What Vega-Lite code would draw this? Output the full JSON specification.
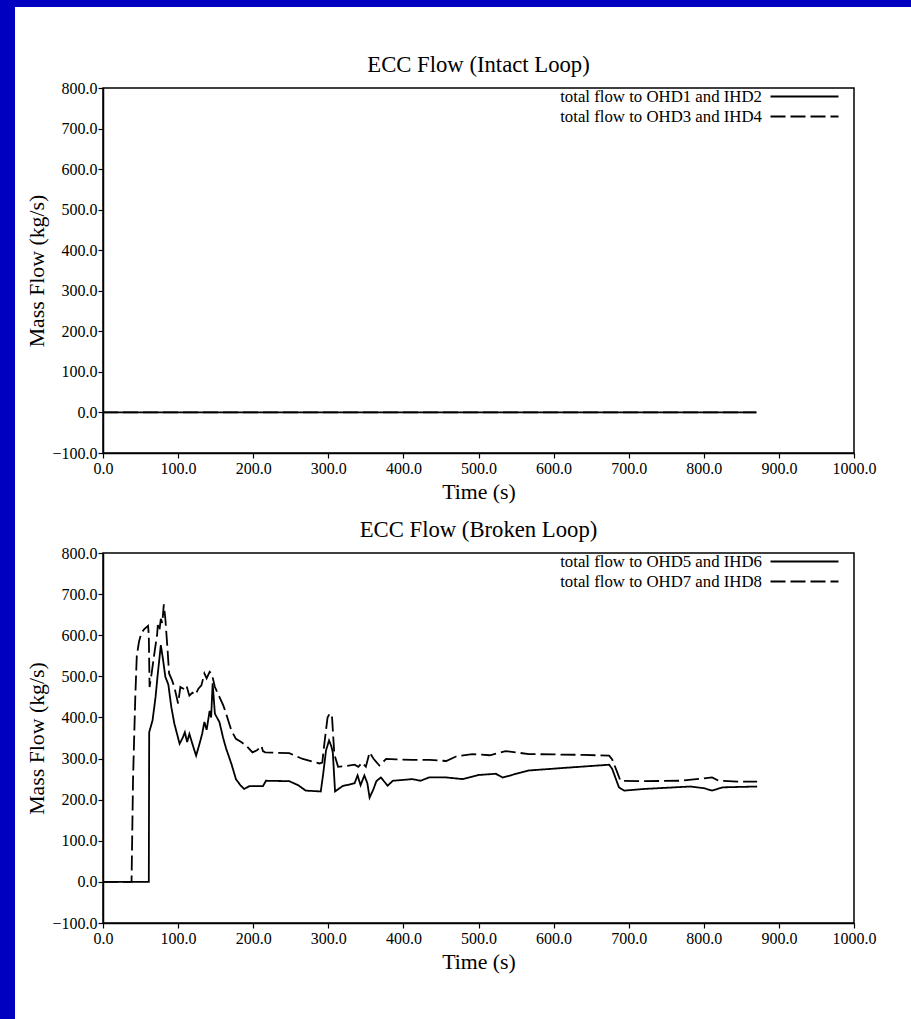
{
  "$schema": "https://vega.github.io/schema/vega-lite/v6.json",
  "background": "white",
  "padding": 0,
  "config": {
    "font": "Liberation Serif",
    "view": {"stroke": "black", "strokeWidth": 1.5},
    "title": {"font": "Liberation Serif", "fontSize": 22.7, "fontWeight": "normal", "color": "black", "offset": 3, "anchor": "middle"},
    "axis": {"domainColor": "black", "domainWidth": 1.5, "tickColor": "black", "tickWidth": 1.2, "tickSize": 5, "grid": false,
      "labelFont": "Liberation Serif", "labelFontSize": 16, "labelColor": "black", "labelFlush": false, "labelOverlap": false,
      "titleFont": "Liberation Serif", "titleFontSize": 21.8, "titleFontWeight": "normal", "titleColor": "black"},
    "axisX": {"labelPadding": 2, "titlePadding": 5},
    "axisY": {"labelPadding": 1, "titleX": -55},
    "legend": {"orient": "none", "legendX": 692, "legendY": -1, "padding": 0, "labelFont": "Liberation Serif", "labelFontSize": 16.8, "labelColor": "black", "labelLimit": 500,
      "symbolType": "M-4,0H4", "symbolStrokeColor": "black", "symbolFillColor": "transparent", "symbolStrokeWidth": 2, "symbolSize": 289, "labelAlign": "right", "labelOffset": -52, "rowPadding": 1}
  },
  "datasets": {
    "border": [{"part": "frame"}],
    "intact": [
      {"series": "total flow to OHD1 and IHD2", "t": 0, "flow": 0},
      {"series": "total flow to OHD1 and IHD2", "t": 200, "flow": 0},
      {"series": "total flow to OHD1 and IHD2", "t": 400, "flow": 0},
      {"series": "total flow to OHD1 and IHD2", "t": 600, "flow": 0},
      {"series": "total flow to OHD1 and IHD2", "t": 870, "flow": 0},
      {"series": "total flow to OHD3 and IHD4", "t": 0, "flow": 0},
      {"series": "total flow to OHD3 and IHD4", "t": 200, "flow": 0},
      {"series": "total flow to OHD3 and IHD4", "t": 400, "flow": 0},
      {"series": "total flow to OHD3 and IHD4", "t": 600, "flow": 0},
      {"series": "total flow to OHD3 and IHD4", "t": 870, "flow": 0}
    ],
    "broken": [
      {"series": "total flow to OHD5 and IHD6", "t": 0, "flow": 0},
      {"series": "total flow to OHD5 and IHD6", "t": 61, "flow": 0},
      {"series": "total flow to OHD5 and IHD6", "t": 61.5, "flow": 364},
      {"series": "total flow to OHD5 and IHD6", "t": 66, "flow": 393},
      {"series": "total flow to OHD5 and IHD6", "t": 70, "flow": 450},
      {"series": "total flow to OHD5 and IHD6", "t": 73, "flow": 507},
      {"series": "total flow to OHD5 and IHD6", "t": 77, "flow": 576},
      {"series": "total flow to OHD5 and IHD6", "t": 80, "flow": 540},
      {"series": "total flow to OHD5 and IHD6", "t": 83, "flow": 499},
      {"series": "total flow to OHD5 and IHD6", "t": 87, "flow": 480},
      {"series": "total flow to OHD5 and IHD6", "t": 91, "flow": 425},
      {"series": "total flow to OHD5 and IHD6", "t": 95, "flow": 385},
      {"series": "total flow to OHD5 and IHD6", "t": 102, "flow": 336},
      {"series": "total flow to OHD5 and IHD6", "t": 106, "flow": 350},
      {"series": "total flow to OHD5 and IHD6", "t": 109, "flow": 364},
      {"series": "total flow to OHD5 and IHD6", "t": 112, "flow": 340},
      {"series": "total flow to OHD5 and IHD6", "t": 115, "flow": 360},
      {"series": "total flow to OHD5 and IHD6", "t": 120, "flow": 330},
      {"series": "total flow to OHD5 and IHD6", "t": 124, "flow": 307},
      {"series": "total flow to OHD5 and IHD6", "t": 129, "flow": 339},
      {"series": "total flow to OHD5 and IHD6", "t": 132, "flow": 360},
      {"series": "total flow to OHD5 and IHD6", "t": 135, "flow": 389},
      {"series": "total flow to OHD5 and IHD6", "t": 138, "flow": 370},
      {"series": "total flow to OHD5 and IHD6", "t": 142, "flow": 416},
      {"series": "total flow to OHD5 and IHD6", "t": 144, "flow": 400},
      {"series": "total flow to OHD5 and IHD6", "t": 146, "flow": 483},
      {"series": "total flow to OHD5 and IHD6", "t": 149, "flow": 409},
      {"series": "total flow to OHD5 and IHD6", "t": 155, "flow": 389},
      {"series": "total flow to OHD5 and IHD6", "t": 160, "flow": 350},
      {"series": "total flow to OHD5 and IHD6", "t": 164, "flow": 324},
      {"series": "total flow to OHD5 and IHD6", "t": 171, "flow": 287},
      {"series": "total flow to OHD5 and IHD6", "t": 177, "flow": 250},
      {"series": "total flow to OHD5 and IHD6", "t": 183, "flow": 235},
      {"series": "total flow to OHD5 and IHD6", "t": 188, "flow": 226},
      {"series": "total flow to OHD5 and IHD6", "t": 195, "flow": 233},
      {"series": "total flow to OHD5 and IHD6", "t": 213, "flow": 233},
      {"series": "total flow to OHD5 and IHD6", "t": 217, "flow": 246},
      {"series": "total flow to OHD5 and IHD6", "t": 248, "flow": 245},
      {"series": "total flow to OHD5 and IHD6", "t": 260, "flow": 235},
      {"series": "total flow to OHD5 and IHD6", "t": 270, "flow": 222},
      {"series": "total flow to OHD5 and IHD6", "t": 290, "flow": 220},
      {"series": "total flow to OHD5 and IHD6", "t": 293, "flow": 260},
      {"series": "total flow to OHD5 and IHD6", "t": 297, "flow": 320},
      {"series": "total flow to OHD5 and IHD6", "t": 301, "flow": 344},
      {"series": "total flow to OHD5 and IHD6", "t": 304, "flow": 330},
      {"series": "total flow to OHD5 and IHD6", "t": 306, "flow": 315},
      {"series": "total flow to OHD5 and IHD6", "t": 309, "flow": 220},
      {"series": "total flow to OHD5 and IHD6", "t": 319, "flow": 233},
      {"series": "total flow to OHD5 and IHD6", "t": 335, "flow": 240},
      {"series": "total flow to OHD5 and IHD6", "t": 339, "flow": 259},
      {"series": "total flow to OHD5 and IHD6", "t": 343, "flow": 235},
      {"series": "total flow to OHD5 and IHD6", "t": 348, "flow": 259},
      {"series": "total flow to OHD5 and IHD6", "t": 352, "flow": 240},
      {"series": "total flow to OHD5 and IHD6", "t": 355, "flow": 205},
      {"series": "total flow to OHD5 and IHD6", "t": 360, "flow": 225},
      {"series": "total flow to OHD5 and IHD6", "t": 364, "flow": 245},
      {"series": "total flow to OHD5 and IHD6", "t": 370, "flow": 254},
      {"series": "total flow to OHD5 and IHD6", "t": 379, "flow": 234},
      {"series": "total flow to OHD5 and IHD6", "t": 386, "flow": 246},
      {"series": "total flow to OHD5 and IHD6", "t": 412, "flow": 250},
      {"series": "total flow to OHD5 and IHD6", "t": 423, "flow": 246},
      {"series": "total flow to OHD5 and IHD6", "t": 434, "flow": 254},
      {"series": "total flow to OHD5 and IHD6", "t": 457, "flow": 254},
      {"series": "total flow to OHD5 and IHD6", "t": 479, "flow": 250},
      {"series": "total flow to OHD5 and IHD6", "t": 500, "flow": 260},
      {"series": "total flow to OHD5 and IHD6", "t": 523, "flow": 263},
      {"series": "total flow to OHD5 and IHD6", "t": 532, "flow": 254},
      {"series": "total flow to OHD5 and IHD6", "t": 567, "flow": 271},
      {"series": "total flow to OHD5 and IHD6", "t": 612, "flow": 277},
      {"series": "total flow to OHD5 and IHD6", "t": 674, "flow": 285},
      {"series": "total flow to OHD5 and IHD6", "t": 678, "flow": 275},
      {"series": "total flow to OHD5 and IHD6", "t": 687, "flow": 230},
      {"series": "total flow to OHD5 and IHD6", "t": 694, "flow": 222},
      {"series": "total flow to OHD5 and IHD6", "t": 720, "flow": 226},
      {"series": "total flow to OHD5 and IHD6", "t": 782, "flow": 232},
      {"series": "total flow to OHD5 and IHD6", "t": 800, "flow": 228},
      {"series": "total flow to OHD5 and IHD6", "t": 811, "flow": 222},
      {"series": "total flow to OHD5 and IHD6", "t": 825, "flow": 230},
      {"series": "total flow to OHD5 and IHD6", "t": 871, "flow": 232},
      {"series": "total flow to OHD7 and IHD8", "t": 0, "flow": 0},
      {"series": "total flow to OHD7 and IHD8", "t": 38, "flow": 0},
      {"series": "total flow to OHD7 and IHD8", "t": 40, "flow": 250},
      {"series": "total flow to OHD7 and IHD8", "t": 43, "flow": 450},
      {"series": "total flow to OHD7 and IHD8", "t": 45, "flow": 550},
      {"series": "total flow to OHD7 and IHD8", "t": 48, "flow": 585},
      {"series": "total flow to OHD7 and IHD8", "t": 51, "flow": 605},
      {"series": "total flow to OHD7 and IHD8", "t": 55, "flow": 615},
      {"series": "total flow to OHD7 and IHD8", "t": 60, "flow": 623},
      {"series": "total flow to OHD7 and IHD8", "t": 61, "flow": 600},
      {"series": "total flow to OHD7 and IHD8", "t": 62, "flow": 474},
      {"series": "total flow to OHD7 and IHD8", "t": 65, "flow": 510},
      {"series": "total flow to OHD7 and IHD8", "t": 69, "flow": 564},
      {"series": "total flow to OHD7 and IHD8", "t": 72, "flow": 600},
      {"series": "total flow to OHD7 and IHD8", "t": 73, "flow": 625},
      {"series": "total flow to OHD7 and IHD8", "t": 75, "flow": 610},
      {"series": "total flow to OHD7 and IHD8", "t": 77, "flow": 640},
      {"series": "total flow to OHD7 and IHD8", "t": 79, "flow": 630},
      {"series": "total flow to OHD7 and IHD8", "t": 81, "flow": 675},
      {"series": "total flow to OHD7 and IHD8", "t": 83, "flow": 640},
      {"series": "total flow to OHD7 and IHD8", "t": 86, "flow": 564},
      {"series": "total flow to OHD7 and IHD8", "t": 88, "flow": 507},
      {"series": "total flow to OHD7 and IHD8", "t": 92, "flow": 490},
      {"series": "total flow to OHD7 and IHD8", "t": 95, "flow": 474},
      {"series": "total flow to OHD7 and IHD8", "t": 98, "flow": 450},
      {"series": "total flow to OHD7 and IHD8", "t": 100, "flow": 434},
      {"series": "total flow to OHD7 and IHD8", "t": 103, "flow": 474},
      {"series": "total flow to OHD7 and IHD8", "t": 107, "flow": 470},
      {"series": "total flow to OHD7 and IHD8", "t": 111, "flow": 478},
      {"series": "total flow to OHD7 and IHD8", "t": 115, "flow": 453},
      {"series": "total flow to OHD7 and IHD8", "t": 119, "flow": 460},
      {"series": "total flow to OHD7 and IHD8", "t": 123, "flow": 455},
      {"series": "total flow to OHD7 and IHD8", "t": 127, "flow": 470},
      {"series": "total flow to OHD7 and IHD8", "t": 131, "flow": 478},
      {"series": "total flow to OHD7 and IHD8", "t": 135, "flow": 507},
      {"series": "total flow to OHD7 and IHD8", "t": 138, "flow": 495},
      {"series": "total flow to OHD7 and IHD8", "t": 142, "flow": 511},
      {"series": "total flow to OHD7 and IHD8", "t": 145, "flow": 505},
      {"series": "total flow to OHD7 and IHD8", "t": 149, "flow": 474},
      {"series": "total flow to OHD7 and IHD8", "t": 155, "flow": 450},
      {"series": "total flow to OHD7 and IHD8", "t": 160, "flow": 430},
      {"series": "total flow to OHD7 and IHD8", "t": 164, "flow": 409},
      {"series": "total flow to OHD7 and IHD8", "t": 168, "flow": 385},
      {"series": "total flow to OHD7 and IHD8", "t": 171, "flow": 368},
      {"series": "total flow to OHD7 and IHD8", "t": 177, "flow": 348},
      {"series": "total flow to OHD7 and IHD8", "t": 184, "flow": 340},
      {"series": "total flow to OHD7 and IHD8", "t": 191, "flow": 331},
      {"series": "total flow to OHD7 and IHD8", "t": 199, "flow": 315},
      {"series": "total flow to OHD7 and IHD8", "t": 205, "flow": 320},
      {"series": "total flow to OHD7 and IHD8", "t": 211, "flow": 331},
      {"series": "total flow to OHD7 and IHD8", "t": 213, "flow": 318},
      {"series": "total flow to OHD7 and IHD8", "t": 216, "flow": 315},
      {"series": "total flow to OHD7 and IHD8", "t": 230, "flow": 314},
      {"series": "total flow to OHD7 and IHD8", "t": 248, "flow": 313},
      {"series": "total flow to OHD7 and IHD8", "t": 266, "flow": 299},
      {"series": "total flow to OHD7 and IHD8", "t": 280, "flow": 292},
      {"series": "total flow to OHD7 and IHD8", "t": 288, "flow": 288},
      {"series": "total flow to OHD7 and IHD8", "t": 292, "flow": 290},
      {"series": "total flow to OHD7 and IHD8", "t": 295, "flow": 340},
      {"series": "total flow to OHD7 and IHD8", "t": 299, "flow": 400},
      {"series": "total flow to OHD7 and IHD8", "t": 302, "flow": 410},
      {"series": "total flow to OHD7 and IHD8", "t": 305, "flow": 400},
      {"series": "total flow to OHD7 and IHD8", "t": 308, "flow": 311},
      {"series": "total flow to OHD7 and IHD8", "t": 313, "flow": 280},
      {"series": "total flow to OHD7 and IHD8", "t": 324, "flow": 282},
      {"series": "total flow to OHD7 and IHD8", "t": 335, "flow": 285},
      {"series": "total flow to OHD7 and IHD8", "t": 340, "flow": 280},
      {"series": "total flow to OHD7 and IHD8", "t": 345, "flow": 290},
      {"series": "total flow to OHD7 and IHD8", "t": 350, "flow": 280},
      {"series": "total flow to OHD7 and IHD8", "t": 355, "flow": 315},
      {"series": "total flow to OHD7 and IHD8", "t": 360, "flow": 300},
      {"series": "total flow to OHD7 and IHD8", "t": 368, "flow": 283},
      {"series": "total flow to OHD7 and IHD8", "t": 377, "flow": 299},
      {"series": "total flow to OHD7 and IHD8", "t": 390, "flow": 298},
      {"series": "total flow to OHD7 and IHD8", "t": 412, "flow": 297},
      {"series": "total flow to OHD7 and IHD8", "t": 435, "flow": 297},
      {"series": "total flow to OHD7 and IHD8", "t": 457, "flow": 294},
      {"series": "total flow to OHD7 and IHD8", "t": 470, "flow": 305},
      {"series": "total flow to OHD7 and IHD8", "t": 492, "flow": 311},
      {"series": "total flow to OHD7 and IHD8", "t": 515, "flow": 308},
      {"series": "total flow to OHD7 and IHD8", "t": 536, "flow": 318},
      {"series": "total flow to OHD7 and IHD8", "t": 567, "flow": 311},
      {"series": "total flow to OHD7 and IHD8", "t": 600, "flow": 310},
      {"series": "total flow to OHD7 and IHD8", "t": 640, "flow": 309},
      {"series": "total flow to OHD7 and IHD8", "t": 674, "flow": 307},
      {"series": "total flow to OHD7 and IHD8", "t": 678, "flow": 298},
      {"series": "total flow to OHD7 and IHD8", "t": 684, "flow": 270},
      {"series": "total flow to OHD7 and IHD8", "t": 689, "flow": 246},
      {"series": "total flow to OHD7 and IHD8", "t": 720, "flow": 245},
      {"series": "total flow to OHD7 and IHD8", "t": 767, "flow": 246},
      {"series": "total flow to OHD7 and IHD8", "t": 790, "flow": 250},
      {"series": "total flow to OHD7 and IHD8", "t": 811, "flow": 254},
      {"series": "total flow to OHD7 and IHD8", "t": 820, "flow": 246},
      {"series": "total flow to OHD7 and IHD8", "t": 845, "flow": 244},
      {"series": "total flow to OHD7 and IHD8", "t": 871, "flow": 244}
    ]
  },
  "spacing": 0,
  "vconcat": [
    {"data": {"name": "border"}, "mark": {"type": "rect", "color": "#0000c0"}, "width": 911, "height": 7, "view": {"stroke": null}},
    {
      "spacing": 10,
      "hconcat": [
        {"data": {"name": "border"}, "mark": {"type": "rect", "color": "#0000c0"}, "width": 15, "height": 1012, "view": {"stroke": null}},
        {
          "spacing": 0,
          "vconcat": [
            {"data": {"name": "border"}, "mark": {"type": "rect", "opacity": 0}, "width": 10, "height": 46, "view": {"stroke": null}},
            {
              "spacing": 14,
              "vconcat": [
                {
                  "title": "ECC Flow (Intact Loop)",
                  "data": {"name": "intact"},
                  "width": 751, "height": 365,
                  "mark": {"type": "line", "color": "black", "strokeWidth": 1.8},
                  "encoding": {
                    "x": {"field": "t", "type": "quantitative", "title": "Time (s)", "scale": {"domain": [0, 1000], "nice": false},
                      "axis": {"values": [0, 100, 200, 300, 400, 500, 600, 700, 800, 900, 1000], "format": ".1f"}},
                    "y": {"field": "flow", "type": "quantitative", "title": "Mass Flow (kg/s)", "scale": {"domain": [-100, 800], "nice": false, "zero": false},
                      "axis": {"values": [-100, 0, 100, 200, 300, 400, 500, 600, 700, 800], "format": ".1f"}},
                    "strokeDash": {"field": "series", "type": "nominal", "title": null,
                      "scale": {"domain": ["total flow to OHD1 and IHD2", "total flow to OHD3 and IHD4"], "range": [[1, 0], [15, 5]]}}
                  }
                },
                {
                  "title": "ECC Flow (Broken Loop)",
                  "data": {"name": "broken"},
                  "width": 751, "height": 370,
                  "mark": {"type": "line", "color": "black", "strokeWidth": 1.8},
                  "encoding": {
                    "x": {"field": "t", "type": "quantitative", "title": "Time (s)", "scale": {"domain": [0, 1000], "nice": false},
                      "axis": {"values": [0, 100, 200, 300, 400, 500, 600, 700, 800, 900, 1000], "format": ".1f"}},
                    "y": {"field": "flow", "type": "quantitative", "title": "Mass Flow (kg/s)", "scale": {"domain": [-100, 800], "nice": false, "zero": false},
                      "axis": {"values": [-100, 0, 100, 200, 300, 400, 500, 600, 700, 800], "format": ".1f"}},
                    "strokeDash": {"field": "series", "type": "nominal", "title": null,
                      "scale": {"domain": ["total flow to OHD5 and IHD6", "total flow to OHD7 and IHD8"], "range": [[1, 0], [15, 5]]}}
                  }
                }
              ],
              "resolve": {"scale": {"strokeDash": "independent"}, "legend": {"strokeDash": "independent"}}
            }
          ]
        }
      ]
    }
  ]
}
